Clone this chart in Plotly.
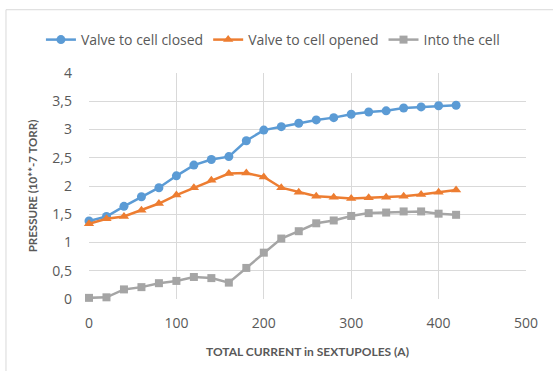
import plotly.graph_objects as go

# Total current in the sextupoles (A)
current = [0, 20, 40, 60, 80, 100, 120, 140, 160, 180, 200,
           220, 240, 260, 280, 300, 320, 340, 360, 380, 400, 420]

# Pressure readings (10**-7 Torr)
valve_closed = [1.38, 1.46, 1.64, 1.81, 1.97, 2.18, 2.37, 2.47, 2.52, 2.80, 2.99,
                3.05, 3.11, 3.17, 3.21, 3.27, 3.31, 3.33, 3.38, 3.40, 3.42, 3.43]
valve_opened = [1.33, 1.42, 1.46, 1.57, 1.69, 1.84, 1.97, 2.10, 2.22, 2.23, 2.16,
                1.97, 1.89, 1.82, 1.80, 1.78, 1.79, 1.80, 1.82, 1.85, 1.89, 1.93]
into_cell = [0.02, 0.03, 0.17, 0.21, 0.28, 0.32, 0.39, 0.37, 0.29, 0.55, 0.82,
             1.07, 1.20, 1.34, 1.39, 1.47, 1.52, 1.53, 1.55, 1.55, 1.51, 1.49]

y_ticks = [0, 0.5, 1, 1.5, 2, 2.5, 3, 3.5, 4]
y_tick_text = [str(v).replace(".", ",") for v in y_ticks]
x_ticks = [0, 100, 200, 300, 400, 500]

FONT = "Open Sans"
TITLE_FONT = "Lato"
TEXT = "#595959"
GRID = "#d9d9d9"

fig = go.Figure()
fig.add_trace(go.Scatter(
    x=current, y=valve_closed, name="Valve to cell closed", mode="lines+markers",
    line=dict(color="#5B9BD5", width=2.5), cliponaxis=False,
    marker=dict(symbol="circle", size=9, color="#5B9BD5")))
fig.add_trace(go.Scatter(
    x=current, y=valve_opened, name="Valve to cell opened", mode="lines+markers",
    line=dict(color="#ED7D31", width=2.5), cliponaxis=False,
    marker=dict(symbol="triangle-up", size=9, color="#ED7D31")))
fig.add_trace(go.Scatter(
    x=current, y=into_cell, name="Into the cell", mode="lines+markers",
    line=dict(color="#A5A5A5", width=2.5), cliponaxis=False,
    marker=dict(symbol="square", size=8, color="#A5A5A5")))

# Chart-area outline (left and top edges)
fig.add_shape(type="line", xref="paper", yref="paper", x0=-0.19, x1=-0.19,
              y0=1.28, y1=-0.4, line=dict(color="#d9d9d9", width=1))
fig.add_shape(type="line", xref="paper", yref="paper", x0=-0.19, x1=1.1,
              y0=1.28, y1=1.28, line=dict(color="#d9d9d9", width=1))

fig.update_layout(
    width=553, height=371,
    margin=dict(l=89, r=27, t=73, b=72, autoexpand=False),
    paper_bgcolor="white", plot_bgcolor="white",
    font=dict(family=FONT, color=TEXT, size=14),
    showlegend=True,
    legend=dict(orientation="h", x=-0.11, xanchor="left", y=1.146, yanchor="middle",
                font=dict(family=FONT, size=14, color=TEXT), itemwidth=30,
                tracegroupgap=0, bgcolor="rgba(0,0,0,0)"),
    xaxis=dict(range=[0, 500], tickvals=x_ticks, showgrid=True, gridcolor=GRID,
               gridwidth=1, zeroline=False, showline=False, ticks="",
               tickfont=dict(size=14, color=TEXT), ticklabelstandoff=14,
               title=dict(text="<b>TOTAL CURRENT in SEXTUPOLES (A)</b>",
                          font=dict(family=TITLE_FONT, size=12, color=TEXT), standoff=16)),
    yaxis=dict(range=[0, 4], tickvals=y_ticks, ticktext=y_tick_text, showgrid=True,
               gridcolor=GRID, gridwidth=1, zeroline=False, showline=False, ticks="",
               tickfont=dict(size=14, color=TEXT), ticklabelstandoff=16,
               title=dict(text="<b>PRESSURE (10**-7 TORR)</b>",
                          font=dict(family=TITLE_FONT, size=11.5, color=TEXT), standoff=12)),
)

fig.write_html("out.html")
